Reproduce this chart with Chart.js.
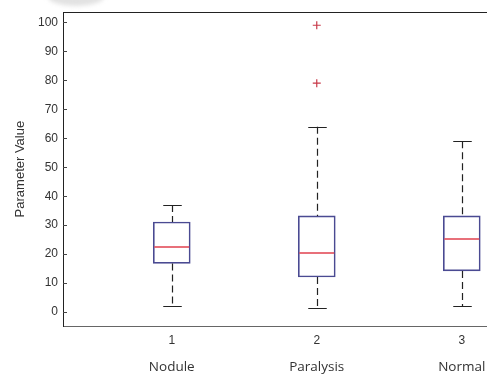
<!DOCTYPE html>
<html>
<head>
<meta charset="utf-8">
<script src="https://cdn.jsdelivr.net/npm/chart.js@4"></script>
<style>
  html, body { margin: 0; padding: 0; background: #fff; overflow: hidden; }
  #wrap { width: 487px; height: 374px; position: relative; }
</style>
</head>
<body>
<div id="wrap"><canvas id="c" width="487" height="374"></canvas></div>
<script>
// Group names and their x positions
const groups = ['Nodule', 'Paralysis', 'Normal'];
const positions = [1, 2, 3];
const positionLabels = ['1', '2', '3'];

// Five-number summaries per group
const whiskerLow = [2, 1.3, 2.1];
const quartile1 = [16.8, 12.1, 14.2];
const medians = [22.3, 20.3, 25.1];
const quartile3 = [31.1, 33.2, 33.2];
const whiskerHigh = [37, 64, 59];

// Outliers (group position, value)
const outlierGroup = [2, 2];
const outlierValue = [99, 79];

// Y axis tick values
const yTicks = [0, 10, 20, 30, 40, 50, 60, 70, 80, 90, 100];

const boxColor = '#4a4a92';
const medianColor = '#e0404e';
const outlierColor = '#c83848';
const whiskerColor = '#222';

// Whiskers, caps, medians and the frame pieces around the plot
const boxPlotPlugin = {
  id: 'boxPlotExtras',
  beforeDraw(chart) {
    const ctx = chart.ctx;
    ctx.save();
    ctx.filter = 'blur(2px)';
    ctx.fillStyle = '#e2e2e2';
    ctx.beginPath();
    ctx.ellipse(76, -3, 28, 9, 0, 0, Math.PI * 2);
    ctx.fill();
    ctx.restore();
  },
  afterDatasetsDraw(chart) {
    const ctx = chart.ctx;
    const ys = chart.scales.y;
    const meta = chart.getDatasetMeta(0);
    ctx.save();
    meta.data.forEach((bar, i) => {
      const x = Math.round(bar.x) + 0.5;
      const half = bar.width / 2;
      const capHalf = half / 2;
      const yLo = ys.getPixelForValue(whiskerLow[i]);
      const yQ1 = ys.getPixelForValue(quartile1[i]);
      const yQ3 = ys.getPixelForValue(quartile3[i]);
      const yHi = ys.getPixelForValue(whiskerHigh[i]);
      const yMed = Math.round(ys.getPixelForValue(medians[i]));

      // dashed whiskers
      ctx.strokeStyle = whiskerColor;
      ctx.lineWidth = 1.2;
      ctx.setLineDash([7, 4]);
      ctx.beginPath();
      ctx.moveTo(x, yHi); ctx.lineTo(x, yQ3);
      ctx.moveTo(x, yQ1); ctx.lineTo(x, yLo);
      ctx.stroke();

      // caps
      ctx.setLineDash([]);
      ctx.beginPath();
      const yh = Math.round(yHi) + 0.5, yl = Math.round(yLo) + 0.5;
      ctx.moveTo(x - capHalf, yh); ctx.lineTo(x + capHalf, yh);
      ctx.moveTo(x - capHalf, yl); ctx.lineTo(x + capHalf, yl);
      ctx.stroke();

      // median
      ctx.strokeStyle = medianColor;
      ctx.lineWidth = 1.4;
      ctx.beginPath();
      ctx.moveTo(bar.x - half + 1, yMed); ctx.lineTo(bar.x + half - 1, yMed);
      ctx.stroke();
    });

    const area = chart.chartArea;
    // top frame line
    ctx.strokeStyle = '#222';
    ctx.lineWidth = 1;
    ctx.beginPath();
    ctx.moveTo(area.left, Math.round(area.top) + 0.5);
    ctx.lineTo(area.right, Math.round(area.top) + 0.5);
    ctx.stroke();

    // inward tick marks on the y axis
    ctx.strokeStyle = '#444';
    ctx.beginPath();
    ys.ticks.forEach(t => {
      const py = Math.round(ys.getPixelForValue(t.value)) + 0.5;
      ctx.moveTo(area.left, py); ctx.lineTo(area.left + 4, py);
    });
    ctx.stroke();

    // group names under the position numbers
    const xs = chart.scales.x;
    ctx.fillStyle = '#333';
    ctx.font = '13.5px "Open Sans"';
    ctx.textAlign = 'center';
    ctx.textBaseline = 'middle';
    groups.forEach((g, i) => {
      ctx.fillText(g, xs.getPixelForValue(positions[i]), 367);
    });
    ctx.restore();
  }
};

new Chart(document.getElementById('c'), {
  data: {
    datasets: [
      {
        type: 'bar',
        data: positions.map((p, i) => ({ x: p, y: [quartile1[i], quartile3[i]] })),
        backgroundColor: 'rgba(255,255,255,0)',
        borderColor: boxColor,
        borderWidth: 1,
        borderSkipped: false,
        barThickness: 37,
        grouped: false
      },
      {
        type: 'scatter',
        data: outlierGroup.map((g, i) => ({ x: g, y: outlierValue[i] })),
        pointStyle: 'cross',
        radius: 4,
        borderColor: outlierColor,
        borderWidth: 1.2
      }
    ]
  },
  options: {
    responsive: false,
    animation: false,
    events: [],
    layout: { autoPadding: false, padding: { top: 12, right: 0, left: 0, bottom: 0 } },
    plugins: { legend: { display: false }, tooltip: { enabled: false } },
    scales: {
      x: {
        type: 'linear',
        offset: false,
        min: 0.25,
        max: 3.174,
        afterBuildTicks(scale) { scale.ticks = positions.map(v => ({ value: v })); },
        afterFit(scale) { scale.height = 48; scale.paddingLeft = 0; scale.paddingRight = 0; },
        ticks: {
          callback: (v) => positionLabels[positions.indexOf(v)] ?? '',
          font: { family: '"Liberation Sans", Arial', size: 12 },
          color: '#333',
          padding: 7,
          maxRotation: 0,
          autoSkip: false
        },
        grid: { display: false, drawTicks: false },
        border: { display: true, color: '#666', width: 1 }
      },
      y: {
        type: 'linear',
        min: -4.8,
        max: 103.5,
        afterBuildTicks(scale) { scale.ticks = yTicks.map(v => ({ value: v })); },
        afterFit(scale) { scale.width = 63; },
        ticks: {
          font: { family: '"Liberation Sans", Arial', size: 12 },
          color: '#333',
          padding: 5,
          autoSkip: false
        },
        grid: { display: false, drawTicks: false },
        border: { display: true, color: '#222', width: 1 },
        title: {
          display: true,
          text: 'Parameter Value',
          font: { family: '"Liberation Sans", Arial', size: 13 },
          color: '#333',
          padding: { top: 13, bottom: 0 }
        }
      }
    }
  },
  plugins: [boxPlotPlugin]
});
</script>
</body>
</html>
